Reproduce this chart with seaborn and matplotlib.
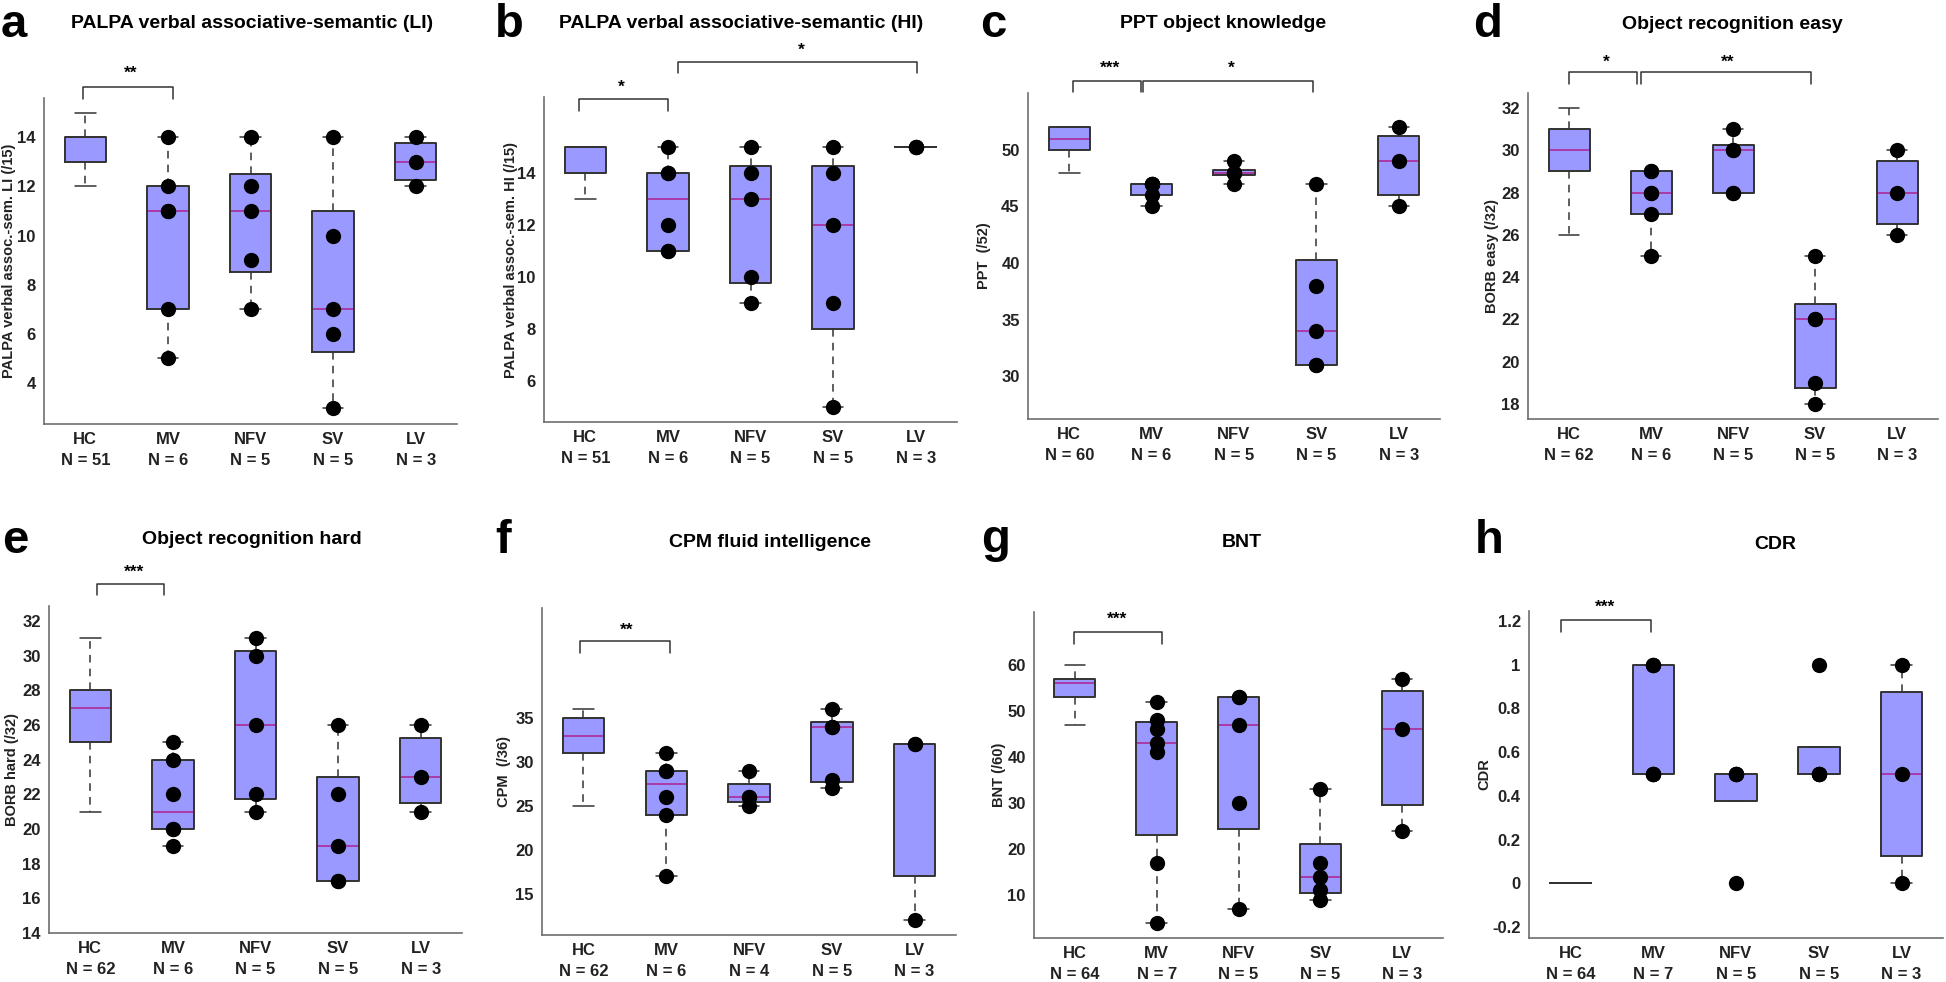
import numpy as np
import pandas as pd
import matplotlib
matplotlib.use('Agg')
import matplotlib.pyplot as plt
import seaborn as sns

groups = ['HC', 'MV', 'NFV', 'SV', 'LV']

# a  PALPA LI
a_n = [51, 6, 5, 5, 3]
a_lo = [12, 5, 7, 3, 12]
a_q1 = [13, 7, 8.5, 5.25, 12.25]
a_med = [14, 11, 11, 7, 13]
a_q3 = [14, 12, 12.5, 11, 13.75]
a_hi = [15, 14, 14, 14, 14]
a_mv = [5, 7, 11, 11, 12, 14]
a_nfv = [7, 9, 11, 12, 14]
a_sv = [3, 6, 7, 10, 14]
a_lv = [12, 13, 14]

# b  PALPA HI
b_n = [51, 6, 5, 5, 3]
b_lo = [13, 11, 9, 5, 15]
b_q1 = [14, 11, 9.75, 8, 15]
b_med = [15, 13, 13, 12, 15]
b_q3 = [15, 14, 14.25, 14.25, 15]
b_hi = [15, 15, 15, 15, 15]
b_mv = [11, 11, 12, 14, 14, 15]
b_nfv = [9, 10, 13, 14, 15]
b_sv = [5, 9, 12, 14, 15]
b_lv = [15, 15, 15]

# c  PPT
c_n = [60, 6, 5, 5, 3]
c_lo = [48, 45, 47, 31, 45]
c_q1 = [50, 46, 47.75, 31, 46]
c_med = [51, 47, 48, 34, 49]
c_q3 = [52, 47, 48.25, 40.25, 51.25]
c_hi = [52, 47, 49, 47, 52]
c_mv = [45, 46, 47, 47, 47, 47]
c_nfv = [47, 48, 48, 48, 49]
c_sv = [31, 31, 34, 38, 47]
c_lv = [45, 49, 52]

# d  BORB easy
d_n = [62, 6, 5, 5, 3]
d_lo = [26, 25, 28, 18, 26]
d_q1 = [29, 27, 28, 18.75, 26.5]
d_med = [30, 28, 30, 22, 28]
d_q3 = [31, 29, 30.25, 22.75, 29.5]
d_hi = [32, 29, 31, 25, 30]
d_mv = [25, 27, 28, 28, 29, 29]
d_nfv = [28, 28, 30, 30, 31]
d_sv = [18, 19, 22, 22, 25]
d_lv = [26, 28, 30]

# e  BORB hard
e_n = [62, 6, 5, 5, 3]
e_lo = [21, 19, 21, 17, 21]
e_q1 = [25, 20, 21.75, 17, 21.5]
e_med = [27, 21, 26, 19, 23]
e_q3 = [28, 24, 30.25, 23, 25.25]
e_hi = [31, 25, 31, 26, 26]
e_mv = [19, 20, 20, 22, 24, 25]
e_nfv = [21, 22, 26, 30, 31]
e_sv = [17, 17, 19, 22, 26]
e_lv = [21, 23, 26]

# f  CPM
f_n = [62, 6, 4, 5, 3]
f_lo = [25, 17, 25, 27, 12]
f_q1 = [31, 24, 25.5, 27.75, 17]
f_med = [33, 27.5, 26, 34, 32]
f_q3 = [35, 29, 27.5, 34.5, 32]
f_hi = [36, 31, 29, 36, 32]
f_mv = [17, 24, 26, 29, 29, 31]
f_nfv = [25, 26, 26, 29]
f_sv = [27, 28, 34, 34, 36]
f_lv = [12, 32, 32]

# g  BNT
g_n = [64, 7, 5, 5, 3]
g_lo = [47, 4, 7, 9, 24]
g_q1 = [53, 23, 24.25, 10.5, 29.5]
g_med = [56, 43, 47, 14, 46]
g_q3 = [57, 47.5, 53, 21, 54.25]
g_hi = [60, 52, 53, 33, 57]
g_mv = [4, 17, 41, 43, 46, 48, 52]
g_nfv = [7, 30, 47, 53, 53]
g_sv = [9, 11, 14, 17, 33]
g_lv = [24, 46, 57]

# h  CDR
h_n = [64, 7, 5, 5, 3]
h_lo = [0, 0.5, 0.375, 0.5, 0]
h_q1 = [0, 0.5, 0.375, 0.5, 0.125]
h_med = [0, 0.5, 0.5, 0.5, 0.5]
h_q3 = [0, 1, 0.5, 0.625, 0.875]
h_hi = [0, 1, 0.5, 0.625, 1]
h_mv = [0.5, 0.5, 0.5, 0.5, 1, 1, 1]
h_nfv = [0, 0.5, 0.5, 0.5, 0.5]
h_sv = [0.5, 0.5, 0.5, 0.5, 1]
h_lv = [0, 0.5, 1]

titles = ['PALPA verbal associative-semantic (LI)', 'PALPA verbal associative-semantic (HI)',
          'PPT object knowledge', 'Object recognition easy', 'Object recognition hard',
          'CPM fluid intelligence', 'BNT', 'CDR']
ylabels = ['PALPA verbal assoc.-sem. LI (/15)', 'PALPA verbal assoc.-sem. HI (/15)',
           'PPT  (/52)', 'BORB easy (/32)', 'BORB hard (/32)', 'CPM  (/36)', 'BNT (/60)', 'CDR']
letters = ['a', 'b', 'c', 'd', 'e', 'f', 'g', 'h']

# significance brackets: (x from, x to, bar y, leg y, stars, star x, star y)
a_sig = [(0.97, 2.06, 16.03, 15.54, '**', 1.55, 16.6)]
b_sig = [(0.92, 2.0, 16.85, 16.38, '*', 1.43, 17.3), (2.12, 5.01, 18.27, 17.85, '*', 3.62, 18.73)]
c_sig = [(1.05, 1.87, 56.1, 55.13, '***', 1.5, 57.26), (1.9, 3.96, 56.1, 55.13, '*', 2.97, 57.26)]
d_sig = [(1.0, 1.83, 33.7, 33.14, '*', 1.46, 34.18), (1.88, 3.95, 33.7, 33.14, '**', 2.94, 34.18)]
e_sig = [(1.08, 1.89, 34.13, 33.5, '***', 1.53, 34.83)]
f_sig = [(0.96, 2.05, 43.75, 42.4, '**', 1.52, 45.0)]
g_sig = [(0.99, 2.07, 67.2, 64.6, '***', 1.52, 70.0)]
h_sig = [(0.89, 1.97, 1.205, 1.15, '***', 1.42, 1.264)]

# layout (pixels): axes box left, top, right, bottom ; limits and ticks
axes_px = [(44, 98, 457, 424), (544, 97, 957, 422), (1028, 93, 1440, 419), (1528, 93, 1938, 419),
           (49, 606, 462, 933), (542, 608, 956, 935), (1034, 612, 1443, 938), (1529, 611, 1943, 938)]
title_px = [(252, 28), (741, 28), (1223, 28), (1732, 29), (252, 544), (770, 547), (1242, 547), (1775, 549)]
letter_px = [(1, 37), (495, 37), (980, 37), (1473, 37), (2, 553), (495, 553), (981, 552), (1475, 553)]
ylab_x = [-0.068, -0.063, -0.090, -0.071, -0.073, -0.075, -0.068, -0.092]
ylims = [(2.33, 15.6), (4.42, 16.92), (26.2, 55.04), (17.29, 32.71), (14, 32.87),
         (10.34, 47.5), (0.65, 71.5), (-0.25, 1.246)]
yticks = [np.arange(4, 15, 2), np.arange(6, 17, 2), np.arange(30, 51, 5), np.arange(18, 33, 2),
          np.arange(14, 33, 2), np.arange(15, 46, 5), np.arange(10, 71, 10), np.arange(-0.2, 1.21, 0.2)]
ylabel_max = [14, 14, 50, 32, 32, 35, 60, 1.2]

panels = [
    (a_n, a_lo, a_q1, a_med, a_q3, a_hi, [a_mv, a_nfv, a_sv, a_lv], a_sig),
    (b_n, b_lo, b_q1, b_med, b_q3, b_hi, [b_mv, b_nfv, b_sv, b_lv], b_sig),
    (c_n, c_lo, c_q1, c_med, c_q3, c_hi, [c_mv, c_nfv, c_sv, c_lv], c_sig),
    (d_n, d_lo, d_q1, d_med, d_q3, d_hi, [d_mv, d_nfv, d_sv, d_lv], d_sig),
    (e_n, e_lo, e_q1, e_med, e_q3, e_hi, [e_mv, e_nfv, e_sv, e_lv], e_sig),
    (f_n, f_lo, f_q1, f_med, f_q3, f_hi, [f_mv, f_nfv, f_sv, f_lv], f_sig),
    (g_n, g_lo, g_q1, g_med, g_q3, g_hi, [g_mv, g_nfv, g_sv, g_lv], g_sig),
    (h_n, h_lo, h_q1, h_med, h_q3, h_hi, [h_mv, h_nfv, h_sv, h_lv], h_sig),
]

sns.set_theme(style='white')
plt.rcParams['font.family'] = ['Liberation Sans', 'DejaVu Sans']
plt.rcParams['font.weight'] = 'bold'

W, H = 1946, 982
fig = plt.figure(figsize=(W / 100, H / 100), dpi=100)

box_col = '#9999ff'
edge_col = '#333333'
med_col = '#b0208f'
spine_col = '#6e6e6e'

for k, (n, lo, q1, med, q3, hi, pts, sig) in enumerate(panels):
    l, t, r, b = axes_px[k]
    ax = fig.add_axes([l / W, 1 - b / H, (r - l) / W, (b - t) / H])

    stats = [dict(med=med[i], q1=q1[i], q3=q3[i], whislo=lo[i], whishi=hi[i], fliers=[])
             for i in range(5)]
    pos = np.arange(5)
    # filled boxes, medians and whiskers first, then the outlines on top
    ax.bxp(stats, positions=pos, widths=0.5, capwidths=0.25, patch_artist=True,
           showfliers=False, manage_ticks=False,
           boxprops=dict(facecolor=box_col, edgecolor='none', zorder=1.5),
           medianprops=dict(color=med_col, lw=1.1, zorder=2),
           whiskerprops=dict(color=edge_col, ls=(0, (5, 4)), lw=1.1, zorder=2),
           capprops=dict(color=edge_col, lw=1.1, zorder=2))
    ax.bxp(stats, positions=pos, widths=0.5, showcaps=False, showfliers=False, manage_ticks=False,
           boxprops=dict(color=edge_col, lw=1.4, zorder=2.6),
           whiskerprops=dict(linestyle='none'), medianprops=dict(linestyle='none'))

    df = pd.DataFrame({'group': [g for g, v in zip(groups[1:], pts) for _ in v],
                       'score': [x for v in pts for x in v]})
    sns.stripplot(data=df, x='group', y='score', order=groups, jitter=False, color='black',
                  size=11, linewidth=0, ax=ax, zorder=4)

    for x1, x2, yb, yl, s, sx, sy in sig:
        ax.plot([x1 - 1, x1 - 1, x2 - 1, x2 - 1], [yl, yb, yb, yl], color=edge_col, lw=1.1,
                clip_on=False)
        ax.text(sx - 1, sy, s, ha='center', va='center', fontsize=12.5, fontweight='bold',
                color='black', clip_on=False)

    ax.set_xlim(-0.5, 4.5)
    ax.set_ylim(*ylims[k])
    ax.set_xticks(pos)
    ax.set_xticklabels([f'{g}\nN = {c}' for g, c in zip(groups, n)], fontsize=12,
                       fontweight='bold', linespacing=1.45, color='#222222')
    yt = yticks[k]
    ax.set_yticks(yt)
    ax.set_yticklabels([('%g' % round(v, 1)) if v <= ylabel_max[k] + 1e-9 else '' for v in yt],
                       fontsize=12, fontweight='bold', color='#222222')
    ax.set_xlabel('')
    ax.set_ylabel(ylabels[k], fontsize=10.5, fontweight='bold', color='#222222')
    ax.yaxis.set_label_coords(ylab_x[k], 0.5)
    ax.tick_params(direction='in', length=4, width=1, color=spine_col, pad=6)
    for sp in ['top', 'right']:
        ax.spines[sp].set_visible(False)
    for sp in ['left', 'bottom']:
        ax.spines[sp].set_color(spine_col)
        ax.spines[sp].set_linewidth(1.2)

    tx, ty = title_px[k]
    fig.text(tx / W, 1 - ty / H, titles[k], ha='center', va='baseline', fontsize=14,
             fontweight='bold', color='black')
    lx, ly = letter_px[k]
    fig.text(lx / W, 1 - ly / H, letters[k], ha='left', va='baseline', fontsize=34,
             fontweight='bold', color='black')

fig.savefig('out.png', dpi=100)
